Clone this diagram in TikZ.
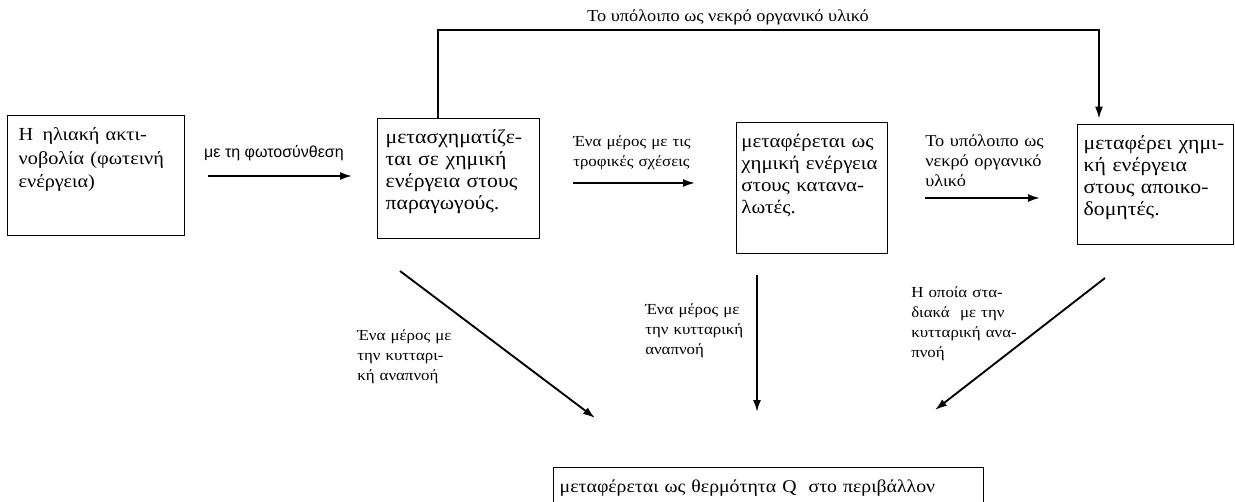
\documentclass[tikz,border=0pt]{standalone}
\usepackage{fontspec}
\setmainfont{Liberation Serif}[FakeStretch=1.1]
\newfontfamily\sansgr{Liberation Sans}
\usetikzlibrary{arrows.meta}

\tikzset{
  kouti/.style={draw, line width=1.1pt, anchor=north west, align=left,
    inner xsep=4.5pt, inner ysep=6pt, text height=12.75pt,
    font=\fontsize{14.8}{16.5}\selectfont},
  velos/.style={line width=1.4pt, -{Latex[length=9pt,width=6pt]}},
  etiketa/.style={anchor=base west, align=left, inner sep=0pt, text width=130pt,
    font=\fontsize{12.5}{15}\selectfont},
  mikri/.style={anchor=base west, align=left, inner sep=0pt, text width=110pt,
    font=\fontsize{11.5}{15}\selectfont}
}

\begin{document}
\begin{tikzpicture}[x=0.75pt,y=-0.75pt]
				\clip (0,0) rectangle (1235,502);
				
				% κουτιά
				\node[kouti, font=\fontsize{13.8}{17.5}\selectfont, inner xsep=8.25pt, text width=116.25pt, text depth=65.25pt] (ilios) at (7,115)
				{Η\enspace ηλιακή ακτι-\\ νοβολία (φωτεινή\\ ενέργεια)};
				\node[kouti, inner xsep=6pt, text width=109.5pt, text depth=65.25pt] (paragogoi) at (377,118)
				{μετασχηματίζε-\\ ται σε χημική\\ ενέργεια στους\\ παραγωγούς.};
				\node[kouti, font=\fontsize{14.2}{16.5}\selectfont, inner xsep=3.5pt, text width=106.25pt, text depth=73.5pt] (katanalotes) at (736,122)
				{μεταφέρεται ως\\ χημική ενέργεια\\ στους κατανα-\\ λωτές.};
				\node[kouti, text width=108pt, text depth=65.25pt] (apoikodomites) at (1077,124)
				{μεταφέρει χημι-\\ κή ενέργεια\\ στους αποικο-\\ δομητές.};
				\node[kouti, font=\fontsize{13.5}{16}\selectfont, text width=313.5pt, text depth=60pt] (thermotita) at (553,467)
				{μεταφέρεται ως θερμότητα Q\ \ στο περιβάλλον};
				
				% άκρα βελών
				\coordinate (b1a) at (208,176);
				\coordinate (b1b) at (352,176);
				\coordinate (b2a) at (573,183);
				\coordinate (b2b) at (695,183);
				\coordinate (b3a) at (925,198);
				\coordinate (b3b) at (1040,198);
				\coordinate (k1) at (438,30);
				\coordinate (k2) at (1099,30);
				\coordinate (d1a) at (400,271);
				\coordinate (d1b) at (595,418);
				\coordinate (d2a) at (757,275);
				\coordinate (d2b) at (757,412);
				\coordinate (d3a) at (1105,278);
				\coordinate (d3b) at (935,410);
				
				% βέλη
				\draw[velos] (b1a) -- (b1b);
				\draw[velos] (b2a) -- (b2b);
				\draw[velos] (b3a) -- (b3b);
				\draw[velos] (paragogoi.north -| k1) -- (k1) -- (k2) -- ([yshift=4pt]apoikodomites.north -| k2);
				\draw[velos] (d1a) -- (d1b);
				\draw[velos] (d2a) -- (d2b);
				\draw[velos] (d3a) -- (d3b);
				
				% ετικέτες
				\node[inner sep=0pt, font=\sansgr\fontsize{12}{14}\selectfont] (fotosynthesi) at (274,153) {με τη φωτοσύνθεση};
				\node[etiketa, font=\fontsize{11.5}{15}\selectfont] (trofikes) at (573,147) {Ένα μέρος με τις\\ τροφικές σχέσεις};
				\node[etiketa] (nekro) at (925,147) {Το υπόλοιπο ως\\ νεκρό οργανικό\\ υλικό};
				\node[etiketa, anchor=base, text width=, align=center] (nekropano) at (728,22) {Το υπόλοιπο ως νεκρό οργανικό υλικό};
				\node[mikri] (anapnoi1) at (357,340) {Ένα μέρος με\\ την κυτταρι-\\ κή αναπνοή};
				\node[mikri] (anapnoi2) at (645,315) {Ένα μέρος με\\ την κυτταρική\\ αναπνοή};
				\node[mikri] (anapnoi3) at (911,298) {Η οποία στα-\\ διακά\ \ με την\\ κυτταρική ανα-\\ πνοή};
				
			\end{tikzpicture}
\end{document}
